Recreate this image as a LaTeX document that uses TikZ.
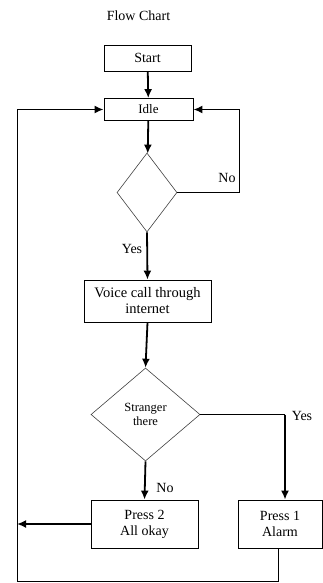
\documentclass[tikz,border=0pt]{standalone}
\usepackage{fontspec}
\setmainfont{Liberation Serif}
\usetikzlibrary{shapes.geometric,arrows.meta}
\begin{document}
\begin{tikzpicture}[x=1pt,y=1pt,
  font=\fontsize{14}{16}\selectfont,
  box/.style={draw=black,line width=0.8pt,rectangle,inner sep=0pt,align=center},
  dia/.style={draw=black!75,line width=0.6pt,diamond,inner sep=0pt,align=center},
  thin/.style={line width=0.8pt},
  flow/.style={line width=1.8pt,-{Latex[length=9pt,width=8pt]}},
  lbl/.style={inner sep=0pt}]
\useasboundingbox (0,0) rectangle (323,-583);
\node[lbl,font=\fontsize{14}{16}\selectfont] (title) at (138.5,-16) {Flow Chart};
\node[box,minimum width=87pt,minimum height=26pt] (start) at (147.5,-58) {Start};
\node[box,minimum width=89pt,minimum height=22pt,font=\fontsize{13}{15}\selectfont] (idle) at (148.5,-109.5) {Idle};
\node[dia,minimum width=60pt,minimum height=79pt] (d1) at (147,-192.5) {};
\node[box,minimum width=127pt,minimum height=42pt,font=\fontsize{14.5}{16}\selectfont] (voice) at (147.5,-301) {Voice call through\\internet};
\node[dia,minimum width=109pt,minimum height=93pt,font=\fontsize{12.5}{14}\selectfont] (d2) at (145.5,-414.5) {Stranger\\there};
\node[box,minimum width=107pt,minimum height=48pt] (press2) at (144.5,-524) {Press 2\\All okay};
\node[box,minimum width=84pt,minimum height=48pt] (press1) at (280,-524) {Press 1\\Alarm};
\coordinate (rtop) at (239,-109.5);
\coordinate (rbot) at (239,-192.5);
\coordinate (ycorner) at (285,-414.5);
\coordinate (lmid) at (17,-524);
\coordinate (p1b) at (278,-548);
\coordinate (bl) at (17,-581);
\coordinate (br) at (278,-581);
\coordinate (ltop) at (17,-109.5);
\node[lbl] (no1) at (227,-178) {No};
\node[lbl] (yes1) at (132,-249) {Yes};
\node[lbl] (yes2) at (302,-416) {Yes};
\node[lbl] (no2) at (165,-488) {No};
\draw[flow] (start) -- (idle);
\draw[flow] (idle) -- (d1);
\draw[thin] (d1.east) -- (rbot) -- (rtop);
\draw[flow] (rtop) -- (idle.east);
\draw[flow] (d1.south) -- (voice.north);
\draw[flow] (voice.south) -- (d2.north);
\draw[thin] (d2.east) -- (ycorner);
\draw[flow] (ycorner) -- (ycorner |- press1.north);
\draw[flow] (d2.south) -- (press2.north);
\draw[flow] (press2.west) -- (lmid);
\draw[thin] (p1b) -- (br) -- (bl) -- (ltop);
\draw[flow] (ltop) -- (idle.west);
\end{tikzpicture}
\end{document}
